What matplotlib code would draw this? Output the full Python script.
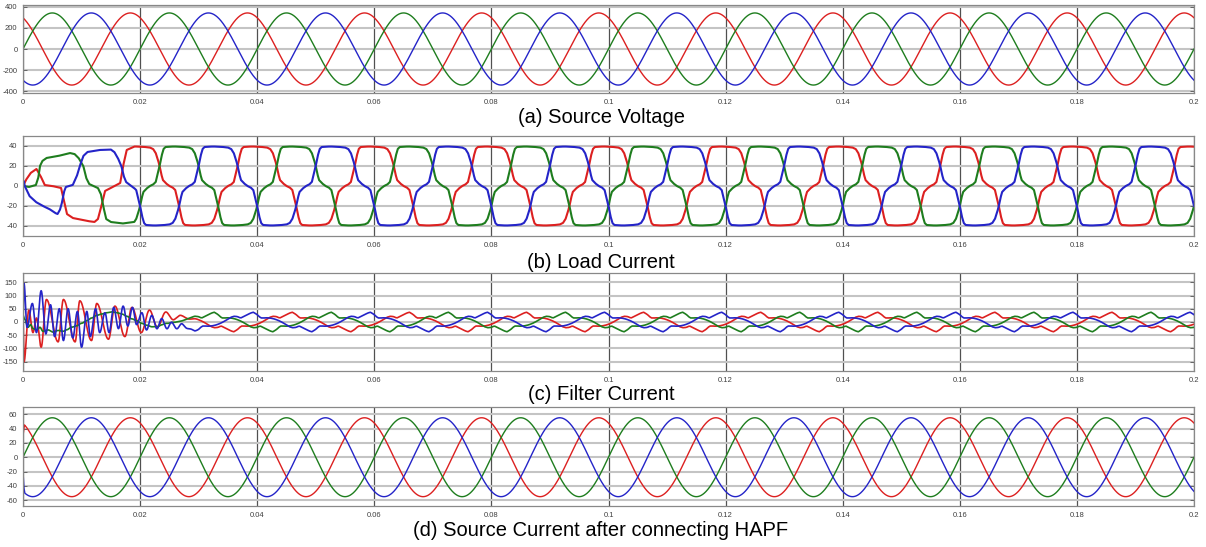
import numpy as np
import matplotlib
matplotlib.use("Agg")
import matplotlib.pyplot as plt

plt.rcParams["font.family"] = ["Liberation Sans", "DejaVu Sans"]
plt.rcParams["axes.unicode_minus"] = False

# supply / time axis
F_SUPPLY = 50.0
T_STOP = 0.2
X_TICKS = [0, 0.02, 0.04, 0.06, 0.08, 0.1, 0.12, 0.14, 0.16, 0.18, 0.2]

PHASES = ["red", "green", "blue"]
COLORS = {"red": "#dc2020", "green": "#1e7d1e", "blue": "#2424c8"}
PHASE_DEG = {"red": 120, "green": 0, "blue": -120}

# (a) source voltage
VS_PEAK = 340.0
VS_TICKS = [-400, -200, 0, 200, 400]
VS_LIM = (-415, 415)

# (b) load current: one positive half cycle, degrees from the middle of the flat top
LOAD_HALF_DEG = [-90, -80, -72, -66, -60, -54, -48, -42, -30, -15, 0, 15, 30, 40, 48, 55, 60, 65, 70, 80, 90]
LOAD_HALF_VAL = [0, 1.5, 4, 12, 20, 30, 37, 39, 39.3, 39.5, 39.3, 39, 38.5, 37, 33, 26, 20, 12, 6, 2.5, 0]
LOAD_CENTRE_DEG = {"red": 0, "green": 120, "blue": 240}
# start-up of the rectifier (ms, A)
LOAD_START_MS = {
    "red": [0, 0.5, 1.3, 2.3, 3.0, 3.7, 5.0, 6.5, 7.0, 7.5, 8.5, 11.0, 12.2, 12.8, 13.4, 14.0, 15.0, 16.6, 17.1, 17.7],
    "green": [0, 1.0, 2.2, 2.6, 2.9, 3.3, 4.0, 6.0, 8.0, 8.8, 9.5, 10.3, 10.8, 11.3, 12.8, 13.3, 13.7, 14.2, 15.0, 17.0],
    "blue": [0, 0.1, 0.3, 1.1, 2.2, 3.4, 4.5, 5.5, 5.9, 6.3, 6.6, 7.0, 7.3, 8.5, 9.2, 9.7, 10.3, 11.0, 13.0, 15.0,
             15.6, 16.2, 16.8, 17.2, 17.6],
}
LOAD_START_VAL = {
    "red": [0, 6, 13, 17, 10, 1, 0, -2, -15, -28, -32, -35, -36, -33, -20, -5, -2, 3, 20, 36],
    "green": [0, -1, 1, 8, 20, 25, 28, 30, 33, 32, 28, 20, 8, 2, -2, -8, -20, -33, -36, -37.5],
    "blue": [0, 5, 0, -10, -16, -20, -23, -27, -28, -24, -18, -6, -1, 1, 10, 20, 30, 34, 36, 36.5,
             34, 28, 20, 10, 4],
}
LOAD_START_END_MS = 19.0
IL_TICKS = [-40, -20, 0, 20, 40]
IL_LIM = (-50, 50)

# (c) filter current start-up (ms, A)
FILTER_START_MS = {
    "red": [0, 0.17, 1.0, 1.7, 2.3, 3.1, 4.0, 6.0, 6.9, 8.9, 9.7, 11.7, 12.6, 14.6, 15.7, 17.4, 18.6,
            20.2, 21.6, 23.0, 24.4, 25.8, 27.2, 28.6, 30.0],
    "green": [0, 0.3, 0.86, 1.3, 1.7, 2.3, 2.9, 3.4, 4.3, 5.1, 6.0, 6.9, 7.4, 8.3, 9.1, 10.0, 10.9, 11.7,
              12.6, 13.4, 14.3, 15.1, 16.0, 16.9, 17.7, 18.6, 19.4, 20.3, 21.1, 22.0, 22.9, 23.7, 24.6,
              25.7, 26.9, 28.0, 29.1, 30.3],
    "blue": [0, 0.17, 0.69, 1.6, 2.3, 3.1, 3.9, 4.7, 5.4, 6.2, 6.9, 7.7, 8.5, 9.3, 10.0, 10.9, 11.5, 12.4,
             13.1, 14.0, 14.7, 15.5, 16.3, 17.1, 17.9, 18.7, 19.4, 20.3, 21.1, 22.0, 22.9, 23.7, 24.6,
             25.4, 26.3, 27.1, 28.0, 29.0, 30.0],
}
FILTER_START_VAL = {
    "red": [10, -150, 45, -40, 15, -95, 85, -75, 85, -75, 80, -70, 70, -65, 60, -55, 55,
            -40, 45, -25, 45, -15, 35, -10, 20],
    "green": [25, 10, -20, -10, -25, -30, -20, -35, -30, -38, -32, -35, -30, -20, -15, -5, 5, 15,
              25, 30, 35, 38, 35, 30, 22, 12, 5, -5, -12, -18, -15, -8, 0,
              10, 18, 25, 25, 20],
    "blue": [20, 145, -20, 70, -40, 118, -45, 65, -55, 50, -70, 50, -60, 40, -95, 40, -55, 50,
             -40, 35, -40, 55, -25, 60, -15, 55, -10, 35, -30, 25, -30, 15, -35,
             10, -30, 10, -25, 5, -15],
}
FILTER_BLEND_MS = (22.0, 30.0)
IF_TICKS = [-150, -100, -50, 0, 50, 100, 150]
IF_LIM = (-185, 185)

# (d) source current after compensation
IS_PEAK = 55.0
IS_START_MS = {"red": [0, 0.25], "blue": [0, 0.15]}
IS_START_VAL = {"red": [30, 45], "blue": [-20, -42]}
IS_START_END_MS = {"red": 0.5, "blue": 0.3}
IS_TICKS = [-60, -40, -20, 0, 20, 40, 60]
IS_LIM = (-68, 70)

TITLES = ["(a) Source Voltage", "(b) Load Current", "(c) Filter Current",
          "(d) Source Current after connecting HAPF"]


def load_shape(rel):
    rel = (rel + 90) % 360 - 90
    pos = np.interp(rel, LOAD_HALF_DEG, LOAD_HALF_VAL)
    neg = -np.interp(rel - 180, LOAD_HALF_DEG, LOAD_HALF_VAL)
    return np.where(rel <= 90, pos, neg)


def eased(x, xp, fp):
    xp = np.asarray(xp, float)
    fp = np.asarray(fp, float)
    i = np.clip(np.searchsorted(xp, x, side="right") - 1, 0, len(xp) - 2)
    s = np.clip((x - xp[i]) / (xp[i + 1] - xp[i]), 0, 1)
    return fp[i] + (fp[i + 1] - fp[i]) * (1 - np.cos(np.pi * s)) / 2


def with_start(x_ms, steady, start_ms, start_val, end_ms):
    out = steady.copy()
    end_val = np.interp(end_ms, x_ms, steady)
    m = x_ms < end_ms
    out[m] = np.interp(x_ms[m], list(start_ms) + [end_ms], list(start_val) + [end_val])
    return out


t = np.linspace(0, T_STOP, 20001)
t_ms = t * 1000
theta = 360 * F_SUPPLY * t

vs, il, i_s, i_f = {}, {}, {}, {}
for p in PHASES:
    vs[p] = VS_PEAK * np.sin(np.radians(theta + PHASE_DEG[p]))

    s = IS_PEAK * np.sin(np.radians(theta + PHASE_DEG[p]))
    if p in IS_START_MS:
        s = with_start(t_ms, s, IS_START_MS[p], IS_START_VAL[p], IS_START_END_MS[p])
    i_s[p] = s

    l = load_shape(theta - LOAD_CENTRE_DEG[p])
    il[p] = with_start(t_ms, l, LOAD_START_MS[p], LOAD_START_VAL[p], LOAD_START_END_MS)

    base = il[p] - i_s[p]
    trans = eased(t_ms, FILTER_START_MS[p], FILTER_START_VAL[p])
    w = np.clip((t_ms - FILTER_BLEND_MS[0]) / (FILTER_BLEND_MS[1] - FILTER_BLEND_MS[0]), 0, 1)
    i_f[p] = (1 - w) * trans + w * base

fig = plt.figure(figsize=(12.06, 5.47), dpi=100)
W, H = 1206.0, 547.0
left, right = 23 / W, 1194 / W
boxes = [(5, 93), (136, 236), (273, 371), (407, 506)]
title_y = [118, 262, 395, 530]
panels = [(vs, VS_TICKS, VS_LIM, 1.0), (il, IL_TICKS, IL_LIM, 1.5),
          (i_f, IF_TICKS, IF_LIM, 1.2), (i_s, IS_TICKS, IS_LIM, 1.0)]

for k, (data, yt, yl, lw) in enumerate(panels):
    top, bot = boxes[k]
    ax = fig.add_axes([left, 1 - bot / H, right - left, (bot - top) / H])
    for p in PHASES:
        ax.plot(t, data[p], color=COLORS[p], lw=lw)
    ax.set_xlim(0, T_STOP)
    ax.set_ylim(*yl)
    ax.set_xticks(X_TICKS)
    ax.set_xticklabels([f"{v:g}" for v in X_TICKS])
    ax.set_yticks(yt)
    ax.set_axisbelow(True)
    ax.grid(axis="y", color="#c4c4c4", lw=1.5)
    ax.grid(axis="x", color="#505050", lw=0.9)
    ax.tick_params(direction="in", length=3, width=0.6, color="#555555",
                   labelsize=5.5, labelcolor="#404040", pad=4, right=True)
    for sp in ax.spines.values():
        sp.set_color("#888888")
        sp.set_linewidth(0.9)
    fig.text(601 / W, 1 - title_y[k] / H, TITLES[k], ha="center", va="center",
             fontsize=14.5, color="black")

fig.savefig("out.png", dpi=100)
